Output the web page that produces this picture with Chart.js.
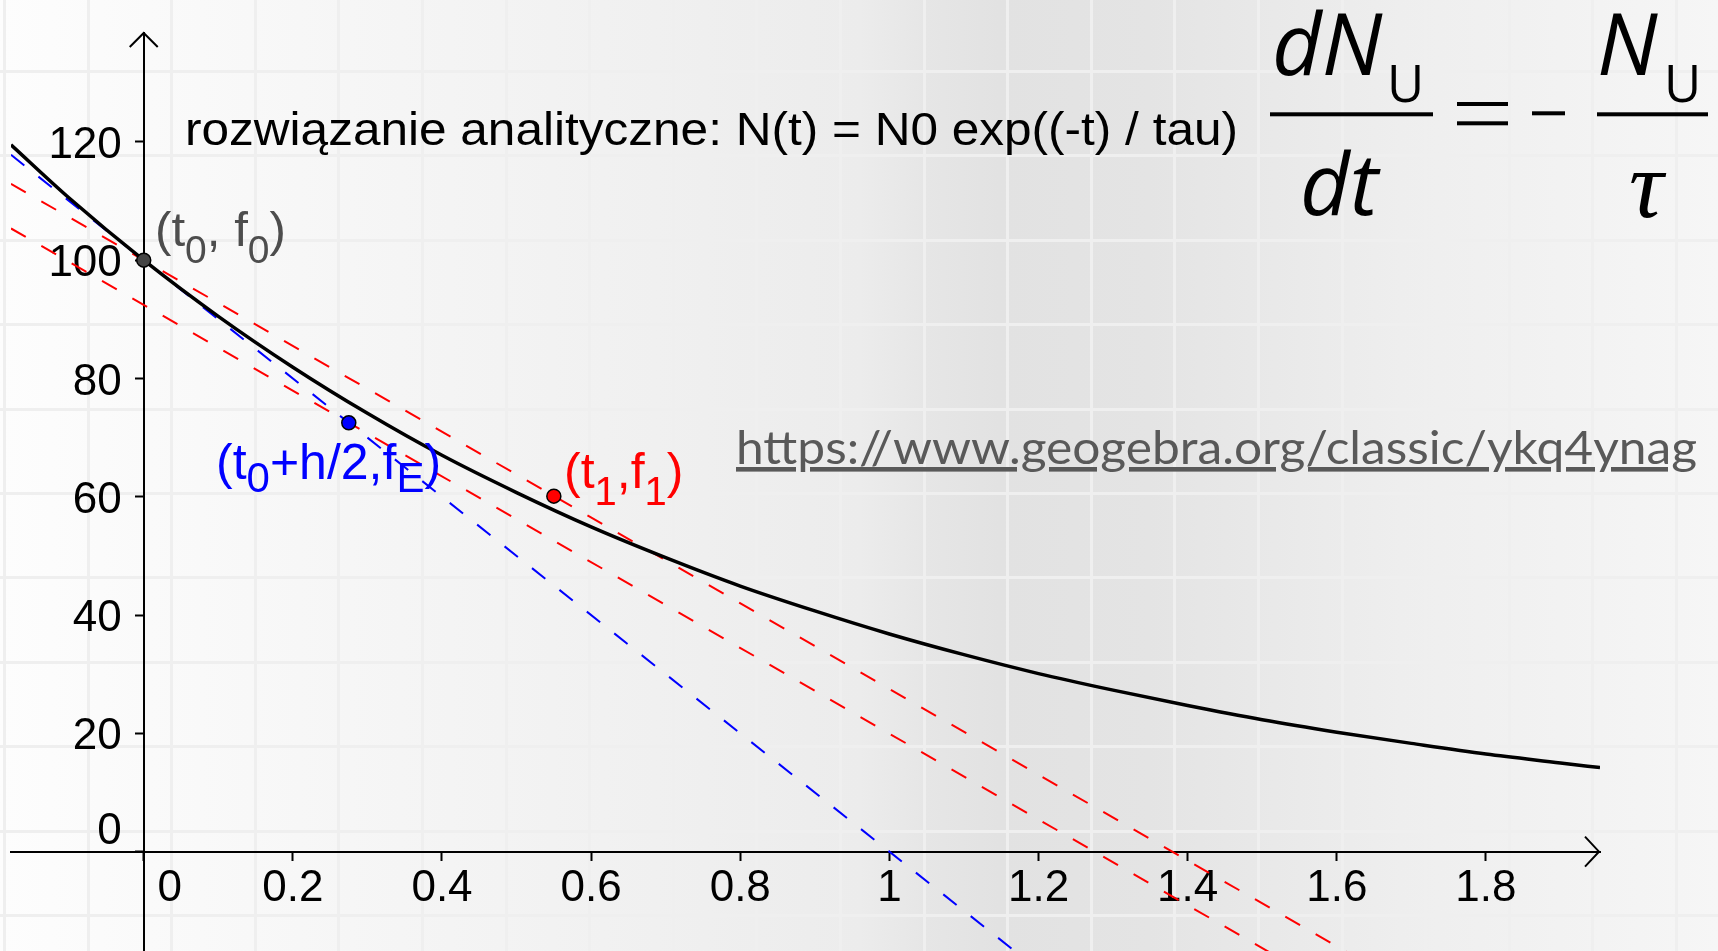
<!DOCTYPE html>
<html>
<head>
<meta charset="utf-8">
<style>
  html, body { margin: 0; padding: 0; }
  body {
    width: 1718px; height: 951px; overflow: hidden; position: relative;
    background:
      repeating-linear-gradient(90deg, transparent 0 3px, #efefef 3px 6px, transparent 6px 83.6px),
      repeating-linear-gradient(180deg, transparent 0 70px, #efefef 70px 73px, transparent 73px 84.4px),
      linear-gradient(90deg, #fdfdfd 0px, #f4f4f4 450px, #ececec 860px, #e6e6e6 925px, #e2e2e2 1000px, #e4e4e4 1150px, #eeeeee 1400px, #f6f6f6 1718px);
  }
  canvas { display: block; position: absolute; left: 0; top: 0; }
  svg { position: absolute; left: 0; top: 0; }
</style>
</head>
<body>
<canvas id="myChart" width="1718" height="951"></canvas>
<svg width="1718" height="951" font-family="Liberation Sans, Arial, sans-serif">
  <text x="185" y="145" font-size="46" textLength="1053" lengthAdjust="spacingAndGlyphs">rozwiązanie analityczne: N(t) = N0 exp((-t) / tau)</text>
  <text x="155" y="246" font-size="48" fill="#4d4d4d" textLength="131" lengthAdjust="spacingAndGlyphs">(t<tspan font-size="38" dy="16.7">0</tspan><tspan dy="-16.7">, f</tspan><tspan font-size="38" dy="16.7">0</tspan><tspan dy="-16.7">)</tspan></text>
  <text x="216" y="479" font-size="50" fill="#0000ff">(t<tspan font-size="42" dy="13">0</tspan><tspan dy="-13">+h/2,f</tspan><tspan font-size="42" dy="13">E</tspan><tspan dy="-13">)</tspan></text>
  <text x="564" y="488" font-size="50" fill="#ff0000">(t<tspan font-size="40" dy="17">1</tspan><tspan dy="-17">,f</tspan><tspan font-size="40" dy="17">1</tspan><tspan dy="-17">)</tspan></text>
  <text x="736" y="464" font-family="Lato, sans-serif" font-size="46" fill="#595959" textLength="961" lengthAdjust="spacingAndGlyphs" text-decoration="underline">https://www.geogebra.org/classic/ykq4ynag</text>
  <g font-family="Open Sans, sans-serif" font-style="italic" font-size="86">
    <text x="1272" y="75">dN</text>
    <text x="1300" y="215">dt</text>
    <text x="1597" y="75">N</text>
  </g>
  <g font-family="Open Sans, sans-serif" font-size="51">
    <text x="1387" y="102">U</text>
    <text x="1664" y="102">U</text>
  </g>
  <text x="1629" y="216.7" font-family="Liberation Serif, serif" font-style="italic" font-size="96">τ</text>
  <rect x="1270" y="112.3" width="163" height="4" fill="#000"/>
  <rect x="1457" y="102" width="51" height="4" fill="#000"/>
  <rect x="1457" y="121.3" width="51" height="4" fill="#000"/>
  <rect x="1532" y="111.3" width="33" height="4" fill="#000"/>
  <rect x="1597" y="112.3" width="111" height="4" fill="#000"/>
</svg>
<script src="https://cdn.jsdelivr.net/npm/chart.js@4/dist/chart.umd.min.js"></script>
<script>
// analytic solution N(t) = N0 exp(-t / tau)
var curveT = [-0.178, -0.1, 0, 0.1, 0.2, 0.3, 0.4, 0.5, 0.6, 0.7, 0.8, 0.9, 1.0, 1.1, 1.2, 1.3, 1.4, 1.5, 1.6, 1.7, 1.8, 1.9, 1.953];
var curveN = [119.5, 110.5, 100, 90.5, 81.9, 74.1, 67.0, 60.7, 54.9, 49.7, 44.9, 40.7, 36.8, 33.3, 30.1, 27.3, 24.7, 22.3, 20.2, 18.3, 16.5, 15.0, 14.2];
// euler tangent through (t0, f0)
var eulerT = [-0.178, 1.18];
var eulerN = [117.8, -18];
// midpoint slope, through (t0, f0) and (t1, f1)
var midT = [-0.178, 1.62];
var midN = [112.9, -17.45];
// midpoint slope, through (t0+h/2, fE)
var mid2T = [-0.178, 1.52];
var mid2N = [105.35, -17.76];
// (t0, f0), (t0+h/2, fE), (t1, f1)
var pointT = [0, 0.275, 0.55];
var pointN = [100, 72.5, 60.1];
var pointColors = ['#444444', '#0000ff', '#ff0000'];

var xTicks = [0, 0.2, 0.4, 0.6, 0.8, 1, 1.2, 1.4, 1.6, 1.8];
var xTickLabels = ['0', '0.2', '0.4', '0.6', '0.8', '1', '1.2', '1.4', '1.6', '1.8'];
var yTicks = [0, 20, 40, 60, 80, 100, 120];
var yTickLabels = ['0', '20', '40', '60', '80', '100', '120'];

function pairs(ts, ns) {
    var out = [];
    for (var i = 0; i < ts.length; i++) {
        out.push({x: ts[i], y: ns[i]});
    }
    return out;
}

// axes sit inside the plot, so they should not push the plot area in
function noEdgePadding(s) {
    s.paddingTop = 0;
    s.paddingBottom = 0;
    s.paddingLeft = 0;
    s.paddingRight = 0;
}

// arrows at the axis ends and the two "0" labels placed like geogebra does
var axisExtras = {
    id: 'axisExtras',
    afterDraw: function(chart) {
        var ctx = chart.ctx;
        var xs = chart.scales.x, ys = chart.scales.y;
        var x0 = xs.getPixelForValue(0), y0 = ys.getPixelForValue(0);
        ctx.save();
        ctx.strokeStyle = '#000';
        ctx.lineWidth = 2;
        ctx.beginPath();
        ctx.moveTo(xs.right - 15, y0 - 15);
        ctx.lineTo(xs.right - 1, y0);
        ctx.lineTo(xs.right - 15, y0 + 15);
        ctx.moveTo(x0 - 14, ys.top + 14);
        ctx.lineTo(x0, ys.top);
        ctx.lineTo(x0 + 14, ys.top + 14);
        ctx.stroke();
        ctx.fillStyle = '#000';
        ctx.font = '44px "Liberation Sans", Arial, sans-serif';
        ctx.textBaseline = 'middle';
        ctx.textAlign = 'center';
        ctx.fillText(xTickLabels[0], x0 + 26, y0 + 37.5);
        ctx.textAlign = 'right';
        ctx.fillText(yTickLabels[0], x0 - 22, y0 - 20);
        ctx.restore();
    }
};

Chart.defaults.font.family = '"Liberation Sans", Arial, sans-serif';

var ctx = document.getElementById('myChart').getContext('2d');
var chart = new Chart(ctx, {
    type: 'scatter',
    data: {
        datasets: [
            {
                data: pairs(pointT, pointN),
                pointRadius: 7,
                pointBackgroundColor: pointColors,
                pointBorderColor: '#000',
                pointBorderWidth: 1.5,
                order: -1
            },
            {
                data: pairs(curveT, curveN),
                showLine: true,
                borderColor: '#000',
                borderWidth: 3.5,
                pointRadius: 0,
                cubicInterpolationMode: 'monotone'
            },
            {
                data: pairs(eulerT, eulerN),
                showLine: true,
                borderColor: '#0000ff',
                borderWidth: 2,
                borderDash: [17, 18],
                pointRadius: 0
            },
            {
                data: pairs(midT, midN),
                showLine: true,
                borderColor: '#ff0000',
                borderWidth: 2,
                borderDash: [17, 18],
                pointRadius: 0
            },
            {
                data: pairs(mid2T, mid2N),
                showLine: true,
                borderColor: '#ff0000',
                borderWidth: 2,
                borderDash: [17, 18],
                pointRadius: 0
            }
        ]
    },
    options: {
        responsive: false,
        animation: false,
        devicePixelRatio: 1,
        layout: { autoPadding: false, padding: { left: 11, right: 118, top: 33, bottom: 0 } },
        plugins: { legend: { display: false }, tooltip: { enabled: false } },
        scales: {
            x: {
                type: 'linear',
                min: -0.178,
                max: 1.953,
                position: { y: 0 },
                afterBuildTicks: function(s) { s.ticks = xTicks.map(function(v) { return {value: v}; }); },
                afterFit: noEdgePadding,
                ticks: {
                    callback: function(v, i) { return i === 0 ? '' : xTickLabels[i]; },
                    color: '#000',
                    font: { size: 44 },
                    padding: 3,
                    autoSkip: false,
                    maxRotation: 0
                },
                grid: { drawOnChartArea: false, drawTicks: true, tickLength: 8, tickColor: '#000', tickWidth: 2 },
                border: { color: '#000', width: 2 }
            },
            y: {
                type: 'linear',
                min: -16.8,
                max: 138.4,
                position: { x: 0 },
                afterBuildTicks: function(s) { s.ticks = yTicks.map(function(v) { return {value: v}; }); },
                afterFit: noEdgePadding,
                ticks: { display: false },
                grid: { drawOnChartArea: false, drawTicks: true, tickLength: 8, tickColor: '#000', tickWidth: 2 },
                border: { color: '#000', width: 2 }
            },
            // label column of the y axis, set a little left of the axis line
            yLabels: {
                axis: 'y',
                type: 'linear',
                min: -16.8,
                max: 138.4,
                position: { x: -0.0294 },
                afterBuildTicks: function(s) { s.ticks = yTicks.map(function(v) { return {value: v}; }); },
                afterFit: noEdgePadding,
                ticks: {
                    callback: function(v, i) { return i === 0 ? '' : yTickLabels[i]; },
                    color: '#000',
                    font: { size: 44 },
                    labelOffset: 4,
                    autoSkip: false
                },
                grid: { display: false },
                border: { display: false }
            }
        }
    },
    plugins: [axisExtras]
});
</script>
</body>
</html>
